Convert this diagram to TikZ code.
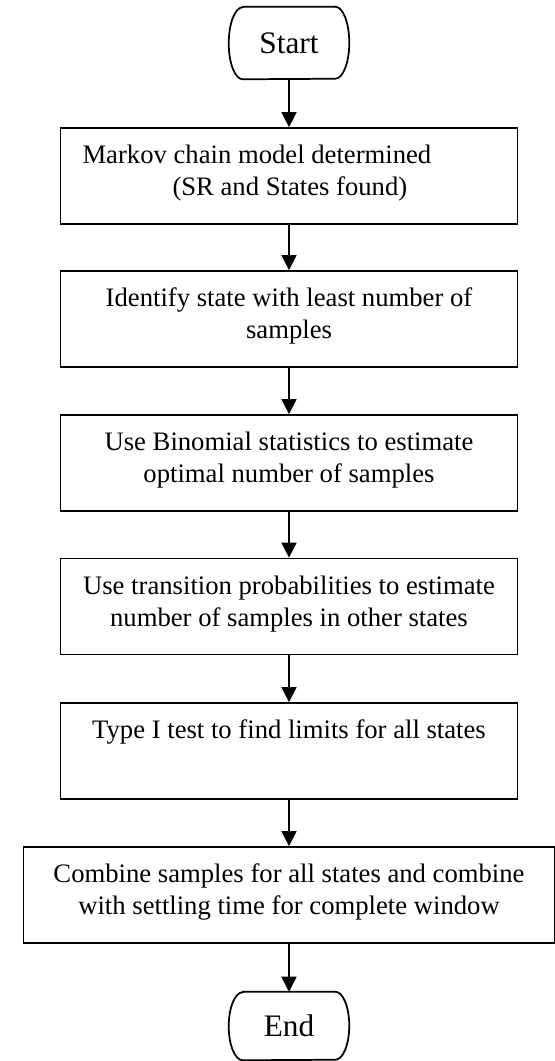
\documentclass[tikz,border=0pt]{standalone}
\usepackage{fontspec}
\setmainfont{Liberation Serif}
\usetikzlibrary{arrows.meta}

\newcommand{\lpad}{\rule[-8.5pt]{0pt}{0pt}}

\tikzset{
  stepbox/.style={draw, line width=1.3pt, minimum width=342.75pt, minimum height=72pt,
    align=center, inner sep=0pt, font=\fontsize{20}{24}\selectfont},
  termbox/.style={minimum width=90pt, minimum height=54pt, inner sep=0pt,
    font=\fontsize{23.5}{28}\selectfont},
  flow/.style={-{Triangle[length=11.25pt, width=11.25pt]}, line width=1.2pt},
}

\begin{document}
\begin{tikzpicture}[x=0.75pt, y=-0.75pt]

% --- Canvas ---
\fill[white] (0, 0) rectangle (555, 1061);
\useasboundingbox (0, 0) rectangle (555, 1061);

% --- Terminals ---
\node[termbox] (start) at (289, 43) {Start};
\node[termbox, minimum height=51pt] (finish) at (289, 1026) {End};

\foreach \t/\r in {start/27pt, finish/25.5pt} {
  \draw[line width=1.3pt]
    ([xshift=10.5pt]\t.north west) -- ([xshift=-10.5pt]\t.north east)
    arc[start angle=90, end angle=-90, x radius=10.5pt, y radius=\r]
    -- ([xshift=10.5pt]\t.south west)
    arc[start angle=270, end angle=90, x radius=10.5pt, y radius=\r] -- cycle;
}

% --- Process steps ---
\node[stepbox, align=flush left, text width=309.75pt] (model) at (289, 176)
  {Markov chain model determined\\\hspace*{67.5pt}(SR and States found)\lpad};
\node[stepbox] (least) at (289, 319)
  {Identify state with least number of\\samples\lpad};
\node[stepbox] (binom) at (289, 463)
  {Use Binomial statistics to estimate\\optimal number of samples\lpad};
\node[stepbox] (trans) at (289, 606.5)
  {Use transition probabilities to estimate\\number of samples in other states\lpad};
\node[stepbox] (typeone) at (289, 751)
  {Type I test to find limits for all states\\\lpad};
\node[stepbox, minimum width=398.25pt] (combine) at (289, 895)
  {Combine samples for all states and combine\\with settling time for complete window\lpad};

% --- Connectors ---
\foreach \a/\b in {start/model, model/least, least/binom, binom/trans,
                   trans/typeone, typeone/combine, combine/finish} {
  \draw[flow] (\a) -- (\b);
}

\end{tikzpicture}
\end{document}
